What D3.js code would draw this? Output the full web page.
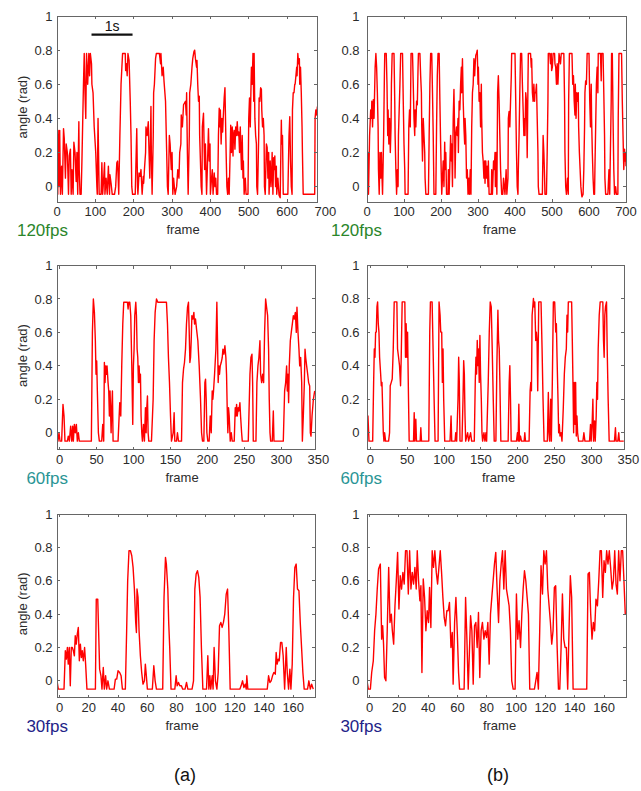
<!DOCTYPE html>
<html lang="en">
<head>
<meta charset="UTF-8">
<title>Angle traces at 120, 60 and 30 fps</title>
<script src="https://d3js.org/d3.v7.min.js"></script>
<style>
  body { margin: 0; background: #fff; }
  svg { display: block; font-family: Arial, "Liberation Sans", sans-serif; }
  .tick-label { fill: #2b2b2b; font-size: 13px; }
  .frame { fill: none; stroke: #666; stroke-width: 1px; shape-rendering: crispEdges; }
  .trace { fill: none; stroke: #ff0000; stroke-width: 1.4px; stroke-linejoin: round; }
</style>
</head>
<body>
<svg id="chart" width="641" height="791"></svg>
<script>
// tick values and labels
const yTicks = [0, 0.2, 0.4, 0.6, 0.8, 1];
const yTickLabels = ["0", "0.2", "0.4", "0.6", "0.8", "1"];
const xTicks120 = [0, 100, 200, 300, 400, 500, 600, 700];
const xTicks60 = [0, 50, 100, 150, 200, 250, 300, 350];
const xTicks30 = [0, 20, 40, 60, 80, 100, 120, 140, 160];
const rateLabels = ["120fps", "60fps", "30fps"];
const columnLabels = ["(a)", "(b)"];
const scaleBarFrames = [90, 197];   // "1s" bar, in frames of panel (a) 120fps

// [frame, angle (rad)]
const traceA120 = [[0,.15],[2,-.045],[3,.33],[5,0],[7,.33],[9,-.045],[12,.12],[14,-.045],[17,.34],[19,.28],[22,.05],[24,.25],[27,.2],[30,-.045],[32,.18],[35,.22],[37,-.045],[39,.1],[42,-.045],[44,.26],[47,.2],[50,.03],[52,.2],[54,-.045],[57,.38],[58,.1],[60,-.045],[63,-.045],[65,.15],[69,.6],[71,.78],[73,.55],[75,.4],[77,.78],[80,.6],[83,.78],[85,.65],[87,.78],[90,.72],[91,.6],[94,.55],[97,.35],[101,.2],[104,0],[105,-.045],[107,.4],[109,.1],[110,-.045],[115,-.045],[117,.14],[119,-.045],[121,.02],[124,.14],[125,-.045],[128,.05],[131,-.045],[134,.12],[137,-.045],[138,.07],[141,.02],[144,-.045],[150,-.045],[153,0],[156,.14],[158,.15],[161,-.045],[164,.3],[167,.6],[171,.78],[178,.78],[179,.68],[181,.72],[183,.65],[185,.78],[188,.74],[191,.5],[193,.3],[195,0],[197,-.045],[204,-.045],[206,.15],[208,.34],[210,0],[211,-.045],[214,.08],[217,.06],[219,.1],[222,-.045],[225,.06],[226,.02],[228,.1],[231,.2],[232,.35],[235,.3],[238,.38],[240,.2],[242,.05],[245,.47],[246,.2],[248,-.045],[251,.3],[252,.55],[254,.6],[257,.75],[259,.78],[267,.78],[270,.72],[271,.78],[274,.65],[277,.7],[279,.62],[283,.5],[285,.3],[288,0],[290,-.045],[293,.3],[295,.25],[298,.1],[300,.2],[302,-.045],[304,.05],[306,0],[308,-.045],[312,0],[315,.1],[318,.05],[320,.2],[323,.25],[324,.42],[327,.35],[330,.48],[335,.5],[337,.42],[338,.55],[340,.2],[342,-.045],[345,.3],[346,.55],[349,.6],[352,.7],[354,.75],[357,.79],[359,.8],[361,.75],[364,.7],[365,.74],[367,.6],[369,.5],[371,.53],[372,.3],[374,.15],[376,0],[378,-.045],[379,.35],[382,.43],[384,.2],[385,.1],[387,.25],[390,-.045],[392,.1],[395,.34],[397,.15],[399,.25],[400,-.045],[403,.05],[405,.1],[407,-.045],[410,.08],[412,0],[414,.05],[416,-.045],[419,-.045],[421,.3],[423,.46],[425,.35],[426,.45],[428,.25],[430,.4],[432,.32],[433,.38],[436,.52],[438,.58],[439,.45],[441,.2],[443,0],[445,-.045],[447,.05],[449,-.045],[452,.25],[453,.36],[455,.2],[457,.35],[459,.18],[460,.3],[462,.33],[464,.22],[466,.35],[468,.3],[470,.38],[472,.3],[474,.32],[476,.2],[478,.35],[479,.25],[481,.1],[483,.3],[485,.05],[486,.15],[488,-.045],[491,.05],[493,-.045],[498,-.045],[500,.4],[502,.52],[504,.35],[506,.6],[507,.7],[509,.6],[511,.78],[513,.5],[514,.78],[516,.4],[518,.3],[520,.25],[521,0],[523,-.045],[526,.3],[527,.52],[529,.5],[531,.58],[533,.57],[534,.45],[536,.35],[538,.4],[540,.3],[541,0],[543,-.045],[545,.15],[546,.25],[548,.23],[550,.05],[552,.2],[553,-.045],[556,.15],[558,0],[560,.1],[561,.2],[563,-.045],[565,.17],[566,.1],[568,.18],[570,0],[572,.12],[573,-.045],[576,.05],[579,-.05],[582,-.065],[585,.39],[586,.25],[588,.3],[590,-.045],[602,-.045],[605,.3],[607,.41],[609,.15],[611,0],[613,-.045],[614,.45],[616,.55],[618,.55],[620,.6],[621,.6],[623,.65],[625,.7],[626,.65],[628,.78],[630,.72],[632,.75],[633,.6],[635,.7],[637,.55],[639,.35],[640,.2],[642,-.045],[672,-.045],[673,.4],[675,.45],[677,.42],[679,.47]];

const traceB120 = [[0,.25],[1,.05],[3,.2],[4,-.045],[7,.3],[10,.45],[12,.4],[13,.5],[15,.35],[17,.51],[19,.4],[21,.6],[22,.7],[24,.78],[26,.7],[28,.55],[30,.35],[31,.1],[33,-.045],[35,.2],[37,.05],[39,.2],[40,.1],[42,-.045],[45,.3],[47,.65],[48,.78],[52,.78],[54,.6],[56,.3],[57,.45],[59,.25],[61,.4],[63,.2],[65,.35],[66,.6],[68,.78],[73,.78],[75,.5],[76,.3],[78,.1],[80,-.045],[82,.1],[84,0],[85,.3],[87,.45],[89,.6],[91,.78],[96,.78],[98,.5],[100,.25],[102,.1],[103,-.045],[111,-.045],[113,.35],[115,.45],[117,.35],[119,.78],[123,.78],[125,.6],[127,.4],[129,.3],[130,.45],[132,.35],[134,.5],[136,.48],[138,.7],[139,.78],[143,.78],[145,.65],[147,.55],[148,.35],[150,.15],[152,.4],[154,.3],[156,.2],[157,.05],[159,-.045],[166,-.045],[168,.3],[170,.6],[172,.78],[175,.78],[177,.55],[179,.3],[181,-.045],[186,-.045],[188,.35],[190,.65],[192,.78],[195,.78],[197,.5],[199,.25],[201,.05],[202,-.045],[206,.15],[208,0],[210,.26],[211,.1],[213,.2],[215,-.045],[219,-.045],[220,.1],[222,-.045],[226,.3],[228,.15],[229,.25],[231,0],[233,.4],[235,.57],[237,.3],[238,.05],[240,.3],[242,.35],[244,.3],[246,.4],[247,.2],[249,.5],[251,.45],[253,.6],[255,.7],[256,.55],[258,.75],[260,.5],[262,.35],[264,.25],[265,.4],[267,.3],[269,.05],[271,.1],[273,-.045],[275,.05],[277,-.045],[279,.1],[281,-.045],[283,.35],[285,.55],[287,.6],[289,.75],[291,.65],[292,.7],[294,.77],[296,.78],[298,.8],[300,.6],[301,.7],[303,.5],[305,.55],[307,.35],[309,.6],[310,.4],[312,.2],[314,.15],[316,.05],[318,.15],[319,.02],[321,.15],[323,.05],[325,.12],[327,0],[328,.15],[330,-.045],[336,-.045],[337,.1],[339,-.045],[342,.15],[344,.1],[346,.2],[347,0],[349,.2],[351,-.045],[353,.55],[355,.65],[357,.5],[359,.3],[361,.1],[364,-.045],[367,-.045],[369,.05],[371,0],[373,-.045],[376,.1],[378,-.045],[381,.05],[382,.4],[384,.44],[386,.35],[388,.5],[390,.65],[391,.78],[400,.78],[402,.5],[404,.2],[406,0],[408,-.045],[409,.1],[411,.3],[413,.55],[415,.78],[418,.78],[420,.6],[422,.45],[424,.3],[426,.4],[427,.3],[429,.55],[431,.5],[433,.17],[435,.6],[436,.78],[442,.78],[444,.7],[445,.75],[447,.55],[449,.5],[451,.6],[453,.5],[454,.55],[456,.55],[458,.6],[460,.4],[462,.2],[463,0],[465,-.045],[474,-.045],[476,.3],[478,.2],[480,.05],[481,-.045],[485,-.045],[487,.2],[489,.5],[490,.78],[494,.78],[496,.72],[498,.78],[499,.68],[501,.7],[503,.78],[507,.78],[508,.72],[510,.7],[512,.6],[514,.72],[516,.6],[517,.65],[519,.78],[523,.72],[525,.78],[532,.78],[534,.5],[535,.2],[537,0],[539,-.045],[542,.05],[544,-.045],[545,.5],[547,.78],[554,.78],[556,.6],[558,.65],[560,.5],[562,.42],[563,.6],[565,.4],[567,.55],[569,.5],[571,.55],[572,.35],[574,.2],[576,.1],[578,0],[580,-.045],[581,-.06],[584,-.045],[586,.1],[588,.35],[589,.55],[591,.62],[593,.6],[595,.78],[600,.78],[602,.5],[604,.35],[606,.6],[607,.4],[609,.2],[611,.05],[613,-.045],[615,-.045],[616,.1],[618,.35],[620,.6],[622,.7],[624,.55],[625,.78],[631,.78],[633,.62],[634,.78],[638,.78],[640,.55],[642,.3],[643,.05],[645,-.045],[651,-.045],[652,0],[654,.1],[656,-.045],[660,.5],[661,.78],[663,.78],[665,.4],[667,.1],[669,-.045],[672,0],[674,-.045],[678,-.045],[679,.4],[681,.78],[688,.78],[690,.5],[692,.3],[694,.1],[696,.22],[697,.15],[699,.2],[700,.12]];

const traceA60 = [[-3.6,0],[-2.3,-.05],[-.9,0],[.5,-.05],[2.7,-.05],[4.5,.17],[5.9,.1],[7.2,-.05],[10.4,-.05],[11.7,-.02],[13.1,-.05],[14.9,.04],[16.3,-.05],[17.6,.04],[18.5,-.05],[19.9,.05],[21.2,0],[22.6,.05],[23.9,-.05],[25.3,0],[26.6,-.05],[42.9,-.05],[44.3,.6],[45.6,.8],[47,.72],[48.3,.55],[49.2,.35],[50.1,.43],[51,.25],[52.4,0],[53.7,-.05],[56.9,-.05],[58.3,.05],[59.6,-.05],[60.5,.42],[61.4,.3],[62.3,.4],[63.2,.35],[64.1,.4],[65.5,.3],[66.4,.25],[67.3,.1],[68.2,.25],[69.6,0],[70.5,.15],[71.4,.25],[72.3,-.05],[79,-.05],[81.3,.18],[82.7,.1],[84,.4],[85.4,.65],[86.7,.78],[91.7,.78],[92.6,.74],[93.5,.78],[94.9,.78],[96.2,.7],[97.6,.4],[98.9,.05],[99.8,.4],[100.7,.5],[101.6,.7],[103,.78],[103.9,.7],[104.8,.5],[105.7,.45],[106.6,.3],[107.5,.4],[108.4,.3],[109.3,.35],[110.2,.1],[111.1,0],[112,-.05],[113.4,.05],[114.7,-.05],[116.1,.15],[117,0],[117.9,.15],[118.8,.22],[119.7,0],[120.6,-.05],[124.2,-.05],[125.6,.1],[126.5,.2],[127.8,.55],[129.2,.72],[131,.8],[132.8,.78],[144.5,.78],[145.9,.65],[147.2,.45],[148.6,.3],[150,.1],[151.3,-.05],[153.6,0],[154.9,.12],[155.8,-.05],[158.1,-.05],[159.4,0],[160.8,-.05],[164.9,-.05],[166.2,.3],[167.6,.38],[168.9,.42],[170.3,.5],[171.6,.65],[173,.75],[174.3,.78],[175.2,.62],[176.2,.42],[177.1,.45],[178,.55],[178.9,.7],[180.2,.68],[181.6,.72],[182.5,.65],[183.8,.68],[185.2,.62],[187,.55],[188.8,.4],[190.6,.2],[192,0],[193.3,-.05],[195.1,-.05],[196.5,.3],[197.4,.32],[198.3,.2],[199.2,0],[200.5,-.05],[202.3,-.05],[203.7,.1],[205.1,0],[206.4,.25],[207.3,.2],[208.2,.25],[209.6,.35],[211.4,.5],[212.7,.78],[213.6,.55],[214.5,.3],[215.4,.4],[216.3,.35],[217.3,.4],[218.6,.42],[220,.45],[220.9,.5],[222.2,.47],[223.6,.52],[224.9,.45],[225.8,.35],[226.7,.15],[227.6,0],[228.5,.15],[229.4,.1],[230.8,-.05],[232.2,0],[233.5,-.05],[236.2,-.05],[237.6,.15],[238.5,.1],[239.4,.17],[240.3,.1],[241.6,.15],[242.5,.13],[243.9,.18],[244.8,.1],[246.2,0],[247.1,-.05],[255.2,-.05],[257.5,.35],[258.8,.45],[260.2,.47],[261.1,.3],[262,-.05],[265.6,-.05],[266.9,.3],[268.3,.4],[269.6,.45],[271,.55],[271.9,.35],[273.3,.3],[274.6,.35],[276,.3],[277.3,.6],[278.7,.8],[280,.75],[281.4,.7],[282.7,.5],[283.6,.2],[284.6,0],[285.5,-.05],[287.7,-.05],[289.1,.13],[290,-.05],[302.6,-.05],[304.4,.25],[305.8,.3],[307.1,.4],[308,.25],[308.9,.35],[309.8,.18],[310.7,.4],[312.1,.55],[313.4,.6],[314.8,.65],[316.2,.7],[317.5,.68],[318.9,.72],[320.2,.6],[321.1,.75],[322.5,.6],[323.8,.5],[324.8,.4],[326.1,.45],[327.5,.3],[328.4,-.05],[329.7,.1],[331.1,.3],[332,.5],[332.9,.45],[334.2,.4],[335.6,.35],[336.9,.3],[338.3,.28],[339.2,0],[340.1,-.02],[341.5,.1],[343.3,.2],[345.1,.25]];

const traceB60 = [[-4.5,0],[-3.2,.1],[-1.8,-.05],[3.2,-.05],[4.5,.3],[5.4,.5],[6.3,.45],[7.2,.6],[8.1,.6],[9,.75],[9.9,.78],[10.8,.65],[11.7,.6],[12.6,.45],[14,.35],[14.9,.28],[15.8,.3],[16.7,.15],[17.6,0],[18.5,-.05],[19.4,0],[20.7,-.05],[24.8,-.05],[26.1,0],[27,.28],[28.4,.3],[29.7,.32],[31.1,.5],[32.4,.78],[36,.78],[36.9,.5],[38.3,.45],[39.6,.4],[41,.28],[41.9,.45],[43.2,.78],[46.8,.78],[47.7,.45],[48.6,.65],[49.5,.45],[50.5,.6],[51.8,.2],[52.7,-.05],[58.6,-.05],[59.5,.12],[60.4,-.05],[61.7,.08],[62.6,-.05],[67.6,-.05],[68.5,.03],[69.4,-.05],[79.3,-.05],[80.6,.6],[81.5,.78],[83.8,.78],[85.1,.5],[86.5,.2],[87.8,-.05],[91.9,-.05],[93.2,.78],[94.6,.7],[95.5,.6],[96.8,.6],[97.7,.3],[98.6,.5],[99.5,.2],[100.9,-.05],[108.1,-.05],[109.5,.1],[110.4,-.05],[114.9,-.05],[115.8,0],[117.1,-.05],[118.9,.2],[119.8,.45],[120.7,.3],[121.6,-.05],[124.3,-.05],[125.7,.2],[126.6,.43],[127.5,.35],[128.4,.1],[129.3,-.05],[132,0],[133.3,-.05],[136,0],[137.4,-.05],[141,-.05],[142.3,.3],[143.2,.45],[144.1,.35],[145,.55],[145.9,.4],[146.8,.5],[147.7,.3],[148.6,.58],[149.5,.35],[150.5,.2],[151.4,0],[152.3,-.05],[154.1,0],[155.4,-.05],[156.8,0],[157.7,-.05],[159.9,.3],[161.3,.6],[162.6,.78],[164,.75],[165.3,.5],[166.7,.2],[168,-.05],[170.3,-.05],[171.6,.4],[173,.73],[173.9,.55],[174.8,.5],[175.7,.3],[177,-.05],[186.9,-.05],[188.3,.3],[189.2,.4],[190.1,.2],[191,-.05],[198.2,-.05],[199.5,0],[200.5,-.05],[201.4,.17],[202.3,-.05],[203.6,-.02],[205,-.05],[208.6,-.05],[209.5,0],[210.4,-.05],[215.3,-.05],[216.7,.25],[217.6,.3],[218.5,.25],[219.4,.7],[220.3,.75],[221.2,.8],[222.1,.75],[223,.78],[224.3,.55],[225.2,.6],[226.1,.55],[227,.25],[228.4,.78],[231.5,.78],[232.9,.5],[234.2,.2],[235.6,-.05],[240.1,-.05],[241.4,.24],[242.3,0],[243.2,-.05],[244.6,.2],[245.5,-.05],[246.8,.3],[248.2,.78],[250,.78],[251.4,.6],[252.3,.65],[253.2,.45],[254.5,.2],[255.4,0],[256.3,.05],[257.2,-.02],[258.6,0],[259.9,-.05],[261.7,.15],[263.1,.35],[264.4,.45],[265.8,.5],[266.7,.7],[267.6,.6],[268.5,.78],[273,.78],[273.9,.55],[274.8,.3],[275.7,0],[276.6,.3],[277.5,.05],[278.4,.3],[279.3,-.02],[280.2,.1],[281.1,0],[282.4,-.05],[288.3,-.05],[289.6,0],[291,-.05],[297.3,-.05],[298.6,.05],[299.5,-.05],[300.9,.07],[301.8,.2],[302.7,-.05],[304.1,.07],[305,-.05],[306.3,.1],[307.2,.3],[308.1,.2],[309,.5],[310.4,.7],[311.7,.78],[315.3,.78],[316.2,.55],[317.1,.45],[318,.7],[318.9,.75],[320.3,.78],[321.2,.5],[322.5,.2],[323.9,-.05],[331.1,-.05],[332.4,.03],[333.3,-.05],[335.6,-.05],[336.9,0],[337.8,-.05],[343.7,-.05]];

const traceA30 = [[-1.8,0],[-.9,-.05],[3,-.05],[3.9,.18],[4.6,.13],[5.3,.2],[5.9,.1],[6.6,.2],[7.3,-.03],[8,.2],[8.7,.2],[9.4,.18],[10.1,.15],[10.7,.27],[11.4,.22],[12.1,.28],[12.8,.32],[13.5,.12],[14.2,.22],[14.9,.14],[15.5,.18],[16.2,.12],[17.1,.2],[17.8,.1],[18.7,-.05],[24.5,-.05],[25.1,.49],[26.1,.49],[26.7,.3],[27.4,.07],[28.3,.03],[29,-.05],[29.9,.08],[30.6,-.05],[31.5,.03],[32.2,-.05],[33.1,0],[34.1,-.05],[37.3,-.05],[38.2,.01],[39.1,.01],[40,.06],[41.1,.05],[42.1,.03],[43,-.05],[45,-.05],[45.9,.3],[46.6,.6],[47.5,.78],[48.5,.78],[49.4,.75],[50.3,.68],[51.2,.55],[52.1,.35],[52.6,.29],[53,.55],[53.7,.5],[54.4,.3],[55.3,.15],[56.2,.05],[57.1,-.02],[58.1,0],[58.7,.1],[59.4,.03],[60.1,-.05],[63.5,-.05],[64.5,.09],[65.4,0],[66.3,-.05],[70.6,-.05],[71.5,.5],[72.5,.74],[73.1,.7],[74.1,.55],[74.7,.35],[75.4,.2],[76.3,-.05],[78.9,-.05],[79.8,.03],[80.5,-.03],[81.4,-.01],[82.3,-.03],[83.4,-.03],[84.3,-.05],[85.9,-.05],[86.9,-.01],[87.8,-.05],[90.7,-.05],[91.7,0],[92.6,.55],[93.5,.64],[94.4,.66],[95.3,.62],[96.2,.5],[97.1,.2],[98.1,-.05],[100.6,-.05],[101.5,.15],[102.2,-.05],[102.9,.03],[103.5,-.05],[104.5,.03],[105.1,-.05],[105.8,.2],[106.7,0],[107.7,-.05],[108.6,.05],[109.5,.33],[110.4,.35],[111.3,.32],[112.2,.35],[113.1,.4],[114.1,.52],[115,.55],[115.9,.3],[116.8,-.05],[123.4,-.05],[124.3,-.03],[125.3,0],[126.2,-.04],[127.1,-.02],[127.8,-.05],[128.2,.03],[128.9,-.05],[142.2,-.05],[143.1,.03],[144,-.01],[144.9,0],[145.8,.03],[146.7,.05],[147.7,.04],[148.3,.17],[149,.1],[149.7,.13],[150.4,.12],[151.3,.23],[152.2,.23],[153.1,.15],[154.1,-.05],[155.2,.2],[155.9,.05],[156.8,-.05],[157.7,.07],[158.4,-.05],[159.3,.1],[160.2,.5],[161.1,.68],[162,.7],[162.9,.55],[163.9,.54],[164.8,.35],[165.7,.2],[166.6,.05],[167.5,-.05],[169.8,-.05],[170.7,0],[171.7,-.05],[172.6,-.02],[173.7,-.05]];

const traceB30 = [[-1.8,0],[-.9,-.05],[.5,-.05],[1.4,.05],[2.5,.12],[3.4,.3],[4.3,.4],[5.2,.55],[6.1,.67],[7.3,.7],[8.2,.25],[8.9,.33],[9.5,.22],[10.2,.02],[11.1,0],[12,.3],[13,.68],[13.9,.35],[14.8,.4],[15.5,.3],[16.4,.22],[17.3,.45],[18.2,.6],[19.1,.77],[20,.43],[20.9,.63],[21.8,.55],[22.7,.65],[23.6,.58],[24.5,.78],[25.5,.78],[26.4,.52],[27.3,.78],[28.2,.55],[29.1,.65],[30,.58],[30.9,.68],[31.8,.55],[32.5,.78],[33.4,.6],[34.3,.48],[35,.57],[35.7,.05],[36.6,.61],[37.5,.5],[38.4,.3],[39.3,.42],[40.2,.35],[40.9,.56],[41.8,.32],[42.7,.78],[43.6,.68],[44.5,.78],[45.5,.65],[46.4,.58],[47.3,.68],[48.2,.78],[49.1,.65],[50,.5],[50.9,.38],[51.8,.33],[52.7,.42],[53.6,.42],[54.5,.47],[55.5,.2],[56.4,.29],[57,-.02],[58,.35],[58.9,.5],[59.8,.3],[60.7,.05],[61.4,-.05],[64.5,-.05],[65.5,.5],[66.4,.25],[67.3,-.05],[68.2,.2],[68.9,.39],[69.8,.3],[70.7,-.02],[71.6,.33],[72.5,.35],[73.4,.2],[74.3,.41],[75.2,.02],[76.1,.3],[77,.35],[78,.25],[78.9,.3],[79.8,.26],[80.7,.35],[81.6,.1],[82.5,.4],[83.4,.5],[84.3,.6],[85.2,.7],[86.1,.77],[87,.55],[88,.35],[88.9,.6],[89.8,.7],[90.7,.78],[91.6,.55],[92.5,.78],[93.4,.55],[94.3,.5],[95.2,.45],[96.1,.3],[97,0],[98,-.05],[99.3,-.05],[100.2,.52],[101.1,.25],[102,.36],[103,.2],[103.9,.4],[104.8,.55],[105.7,.66],[106.6,.6],[107.5,.5],[108.4,.4],[109.3,-.05],[112.5,-.05],[113.4,0],[114.3,.05],[115.2,-.05],[116.1,.3],[117,.69],[118,.52],[118.9,.78],[119.8,.7],[120.7,.78],[121.6,.55],[122.5,.45],[123.4,.35],[124.3,.22],[125.2,.3],[126.1,.56],[127,.57],[128,.2],[128.9,-.05],[129.8,-.05],[130.7,.2],[131.6,.52],[132.5,.25],[133.4,.2],[134.3,.2],[135.2,-.05],[136.1,.3],[137,.63],[137.9,.5],[138.9,-.05],[148.2,-.05],[149.1,.64],[150,.65],[150.9,.4],[151.8,.25],[152.7,.35],[153.6,.3],[154.5,.49],[155.5,.45],[156.4,.6],[157.3,.78],[158.2,.78],[159.1,.5],[160,.72],[160.9,.65],[161.8,.78],[162.7,.7],[163.6,.78],[164.5,.68],[165.5,.55],[166.4,.6],[167.3,.78],[168.2,.58],[169.1,.52],[170,.78],[170.9,.6],[171.8,.78],[172.7,.78],[173.6,.6],[174.5,.4]];

// layout of the six panels
const panels = [
  { trace: traceA120, ticks: xTicks120, xd: [0, 678],      yd: [-0.09, 1], x: 57,  y: 16,    w: 260, h: 186,   col: 0, row: 0 },
  { trace: traceB120, ticks: xTicks120, xd: [0, 700],      yd: [-0.09, 1], x: 367, y: 16,    w: 259, h: 186,   col: 1, row: 0 },
  { trace: traceA60,  ticks: xTicks60,  xd: [-3.6, 345.5], yd: [-0.1, 1],  x: 57,  y: 265.5, w: 258, h: 184,   col: 0, row: 1 },
  { trace: traceB60,  ticks: xTicks60,  xd: [-4.5, 344],   yd: [-0.1, 1],  x: 367, y: 265,   w: 257, h: 184.5, col: 1, row: 1 },
  { trace: traceA30,  ticks: xTicks30,  xd: [-1.8, 174.9], yd: [-0.1, 1],  x: 57,  y: 514,   w: 258, h: 183.5, col: 0, row: 2 },
  { trace: traceB30,  ticks: xTicks30,  xd: [-1.8, 175],   yd: [-0.1, 1],  x: 367, y: 514,   w: 259, h: 183.5, col: 1, row: 2 }
];
const rateColors = ["#2b862b", "#2a9595", "#232388"];

const svg = d3.select("#chart");
const defs = svg.append("defs");

panels.forEach((p, i) => {
  const x = d3.scaleLinear().domain(p.xd).range([0, p.w]);
  const y = d3.scaleLinear().domain(p.yd).range([p.h, 0]);
  const g = svg.append("g").attr("transform", `translate(${p.x},${p.y})`);

  defs.append("clipPath").attr("id", "clip" + i)
    .append("rect").attr("width", p.w).attr("height", p.h);

  // trace
  const line = d3.line().x(d => x(d[0])).y(d => y(d[1]));
  g.append("path")
    .datum(p.trace)
    .attr("class", "trace")
    .attr("clip-path", `url(#clip${i})`)
    .attr("d", line);

  // inward ticks on all four sides
  const tk = g.append("g").attr("stroke", "#666").attr("shape-rendering", "crispEdges");
  p.ticks.filter(t => t >= p.xd[0] && t <= p.xd[1]).forEach(t => {
    tk.append("line").attr("x1", x(t)).attr("x2", x(t)).attr("y1", p.h).attr("y2", p.h - 3);
    tk.append("line").attr("x1", x(t)).attr("x2", x(t)).attr("y1", 0).attr("y2", 3);
  });
  yTicks.forEach(t => {
    tk.append("line").attr("x1", 0).attr("x2", 3).attr("y1", y(t)).attr("y2", y(t));
    tk.append("line").attr("x1", p.w).attr("x2", p.w - 3).attr("y1", y(t)).attr("y2", y(t));
  });

  g.append("rect").attr("class", "frame").attr("width", p.w).attr("height", p.h);

  // tick labels
  g.selectAll(".xl").data(p.ticks).enter().append("text")
    .attr("class", "tick-label")
    .attr("x", d => x(d)).attr("y", p.h + 14)
    .attr("text-anchor", "middle")
    .text(d => d);
  g.selectAll(".yl").data(yTicks).enter().append("text")
    .attr("class", "tick-label")
    .attr("x", p.col === 0 ? -4.5 : -7.5).attr("y", d => y(d)).attr("dy", "0.35em")
    .attr("text-anchor", "end")
    .text((d, k) => yTickLabels[k]);

  // axis titles
  g.append("text").attr("class", "tick-label")
    .attr("x", p.w / 2 - (p.col === 0 ? 4 : -3)).attr("y", p.h + 32)
    .attr("text-anchor", "middle").text("frame");
  if (p.col === 0) {
    g.append("text").attr("class", "tick-label")
      .attr("transform", `translate(-30,${p.h / 2 - 2}) rotate(-90)`)
      .attr("text-anchor", "middle").text("angle (rad)");
  }

  // frame rate label
  g.append("text")
    .attr("x", p.col === 0 ? 68 - p.x : 382 - p.x).attr("y", p.h + 34)
    .attr("text-anchor", "end")
    .attr("font-size", 17)
    .attr("fill", rateColors[p.row])
    .text(rateLabels[p.row]);

  // "1s" scale bar in the first panel
  if (i === 0) {
    g.append("line")
      .attr("x1", x(scaleBarFrames[0])).attr("x2", x(scaleBarFrames[1]))
      .attr("y1", 18.7).attr("y2", 18.7)
      .attr("stroke", "#111").attr("stroke-width", 2.2);
    g.append("text")
      .attr("x", (x(scaleBarFrames[0]) + x(scaleBarFrames[1])) / 2).attr("y", 15)
      .attr("text-anchor", "middle").attr("font-size", 14).attr("fill", "#111")
      .text("1s");
  }
});

// column captions
svg.selectAll(".cap").data(columnLabels).enter().append("text")
  .attr("x", (d, k) => k === 0 ? 185 : 498).attr("y", 781)
  .attr("text-anchor", "middle").attr("font-size", 18).attr("fill", "#111")
  .text(d => d);
</script>
</body>
</html>
